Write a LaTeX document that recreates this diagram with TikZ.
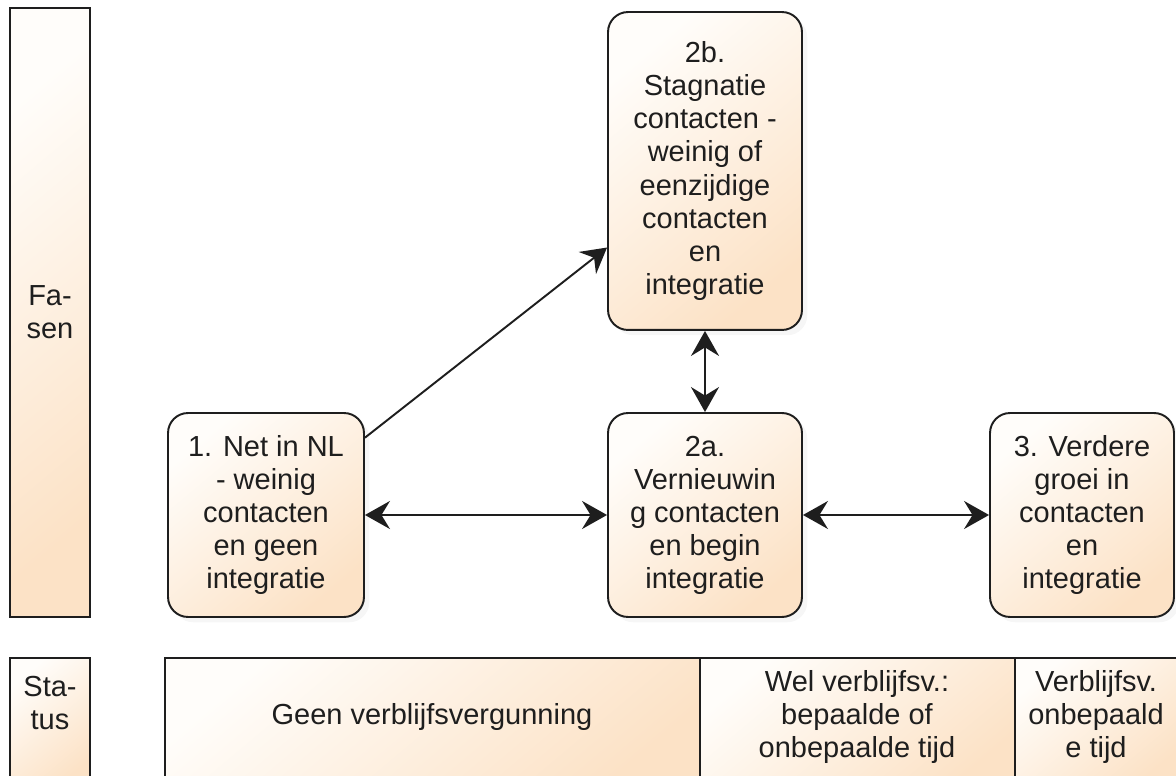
\documentclass[tikz,border=0pt]{standalone}
\usepackage{fontspec}
\setmainfont{Liberation Sans}
\usetikzlibrary{shadows}
\usetikzlibrary{arrows.meta}
\usetikzlibrary{calc}

\definecolor{peachlight}{RGB}{255,253,250}
\definecolor{peachdark}{RGB}{252,226,198}
\definecolor{inkline}{RGB}{30,30,30}

\begin{document}
\begin{tikzpicture}[x=0.02cm, y=-0.02cm,
  every node/.style={font=\fontsize{16.5}{18.8}\selectfont, text=inkline, align=center, inner sep=0pt},
  fase/.style={draw=inkline, line width=1.1pt, rounded corners=0.4cm,
               top color=peachlight, bottom color=peachdark, shading angle=40,
               drop shadow={opacity=0.07, shadow xshift=3pt, shadow yshift=-3pt}},
  balk/.style={draw=inkline, line width=1.1pt,
               top color=peachlight, bottom color=peachdark, shading angle=40},
  pijl/.style={draw=inkline, line width=1.2pt, {Stealth[length=0.5cm, width=0.56cm, inset=0.17cm]}-{Stealth[length=0.5cm, width=0.56cm, inset=0.17cm]}}
]
 \clip (0,0) rectangle (1176,776);
 \fill[white] (0,0) rectangle (1176,776);

 % side labels
 \node[balk, minimum width=1.6cm, minimum height=12.18cm] (fasen) at (50,312.5) {Fa-\\sen};
 \node[balk, minimum width=1.6cm, minimum height=2.6cm, text depth=0pt] (status) at (50,723) {};
 \node at (50,703) {Sta-\\tus};

 % phases
 \node[fase, minimum width=3.92cm, minimum height=4.08cm] (b1) at (266,515)
   {1. Net in NL\\- weinig\\contacten\\en geen\\integratie};
 \node[fase, minimum width=3.88cm, minimum height=6.36cm] (b2b) at (705,171)
   {2b.\\Stagnatie\\contacten -\\weinig of\\eenzijdige\\contacten\\en\\integratie};
 \node[fase, minimum width=3.88cm, minimum height=4.08cm] (b2a) at (705,515)
   {2a.\\Vernieuwin\\g contacten\\en begin\\integratie};
 \node[fase, minimum width=3.68cm, minimum height=4.08cm] (b3) at (1082,515)
   {3. Verdere\\groei in\\contacten\\en\\integratie};

 % status bar
 \foreach \xa/\xb/\n in {165/700/s1, 700/1015/s2, 1015/1177/s3}
   \draw[balk] (\xa,658) rectangle (\xb,790) coordinate (\n);
 \node (t1) at (432,717) {Geen verblijfsvergunning};
 \node (t2) at (857,717) {Wel verblijfsv.:\\bepaalde of\\onbepaalde tijd};
 \node (t3) at (1096,717) {Verblijfsv.\\onbepaald\\e tijd};

 % arrows
 \draw[pijl] (b1) -- (b2a);
 \draw[pijl] (b2a) -- (b3);
 \draw[pijl] (b2b) -- (b2a);
 \draw[draw=inkline, line width=1.1pt, -{Stealth[length=0.5cm, width=0.56cm, inset=0.17cm]}] (b1.38) -- (b2b.218);

\end{tikzpicture}
\end{document}
